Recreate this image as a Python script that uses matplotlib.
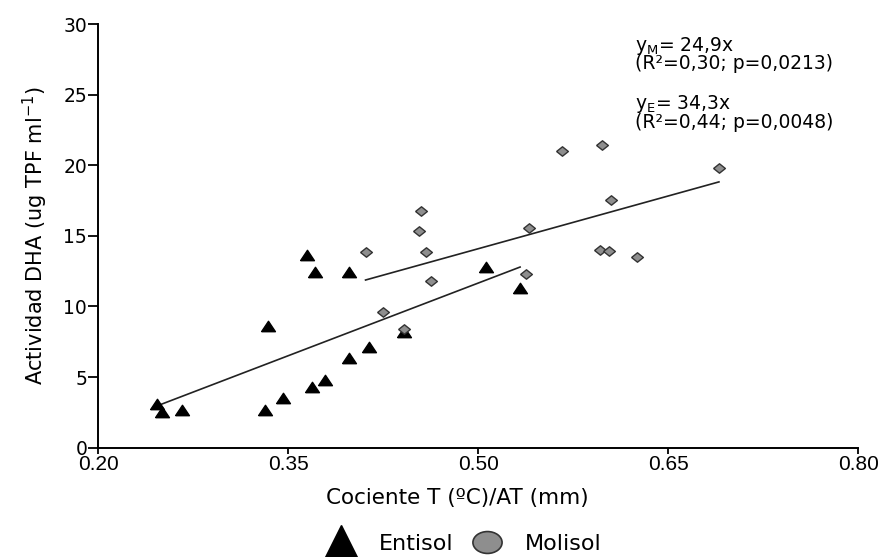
import matplotlib
matplotlib.use("Agg")
import matplotlib.pyplot as plt
from matplotlib.lines import Line2D
from matplotlib.path import Path
import numpy as np

plt.rcParams['font.family'] = ['DejaVu Sans']
plt.rcParams['mathtext.fontset'] = 'dejavusans'

# Entisol (triangles)
entisol_x = [0.246, 0.250, 0.266, 0.332, 0.334, 0.346, 0.365, 0.371, 0.369, 0.379,
             0.398, 0.398, 0.414, 0.441, 0.506, 0.533]
entisol_y = [3.07, 2.51, 2.67, 2.67, 8.62, 3.50, 13.65, 12.42, 4.28, 4.76,
             12.42, 6.33, 7.15, 8.17, 12.82, 11.29]

# Molisol (diamonds)
molisol_x = [0.566, 0.598, 0.690, 0.605, 0.455, 0.453, 0.540, 0.459, 0.596, 0.603,
             0.625, 0.538, 0.463, 0.425, 0.411, 0.441]
molisol_y = [21.03, 21.44, 19.79, 17.54, 16.78, 15.35, 15.54, 13.88, 14.00, 13.95,
             13.48, 12.30, 11.83, 9.63, 13.86, 8.41]

# regression lines (slope from the equations, intercept)
slope_m, intercept_m = 24.9, 1.64
slope_e, intercept_e = 34.3, -5.49

x_ticks = [0.20, 0.35, 0.50, 0.65, 0.80]
x_tick_labels = ['0.20', '0.35', '0.50', '0.65', '0.80']
y_ticks = [0, 5, 10, 15, 20, 25, 30]

eq_blocks = ['y$_\\mathregular{M}$= 24,9x\n(R²=0,30; p=0,0213)',
             'y$_\\mathregular{E}$= 34,3x\n(R²=0,44; p=0,0048)']
eq_y = [27.88, 23.74]

tri = Path([(-1, -0.75), (1, -0.75), (0, 0.75), (-1, -0.75)])
dia = Path([(-1, 0), (0, 0.8), (1, 0), (0, -0.8), (-1, 0)])
circ = Path.unit_circle()
ell = Path(circ.vertices * [1.0, 0.75], circ.codes)

fig = plt.figure(figsize=(8.83, 5.57), dpi=100)
ax = fig.add_axes([0.1113, 0.1962, 0.8607, 0.7607])

ax.scatter(entisol_x, entisol_y, marker=tri, s=10**2, color='black', zorder=3)
ax.scatter(molisol_x, molisol_y, marker=dia, s=8.5**2, facecolor='#8e8e8e',
           edgecolor='#333333', linewidth=1.0, zorder=4)

xe = np.array([min(entisol_x), max(entisol_x)])
xm = np.array([min(molisol_x), max(molisol_x)])
ax.plot(xe, slope_e * xe + intercept_e, color='#222222', linewidth=1.2, zorder=2)
ax.plot(xm, slope_m * xm + intercept_m, color='#222222', linewidth=1.2, zorder=2)

ax.set_xlim(0.20, 0.80)
ax.set_ylim(0, 30)
ax.set_xticks(x_ticks)
ax.set_xticklabels(x_tick_labels, fontfamily='Liberation Sans', fontsize=15)
ax.set_yticks(y_ticks)
ax.spines['top'].set_visible(False)
ax.spines['right'].set_visible(False)
for s in ['left', 'bottom']:
    ax.spines[s].set_linewidth(1.4)
ax.tick_params(axis='y', direction='out', length=7, width=1.3, labelsize=13.5, pad=1)
ax.tick_params(axis='x', direction='out', length=4, width=1.3, pad=1)
ax.set_xlabel('Cociente T (ºC)/AT (mm)', fontsize=15.5)
ax.xaxis.set_label_coords(0.473, -0.095)
ax.set_ylabel('Actividad DHA (ug TPF ml$^\\mathregular{-1}$)', fontsize=15, labelpad=10)

for txt, yy in zip(eq_blocks, eq_y):
    ax.text(0.6237, yy, txt, fontsize=13.5, va='center', linespacing=0.85)

handles = [
    Line2D([], [], marker='^', linestyle='none', markersize=25, color='black', label='Entisol'),
    Line2D([], [], marker=ell, linestyle='none', markersize=21, markerfacecolor='#8e8e8e',
           markeredgecolor='#333333', markeredgewidth=1.2, label='Molisol'),
]
fig.legend(handles=handles, loc='center', bbox_to_anchor=(0.524, 0.024), ncol=2,
           frameon=False, fontsize=16, handletextpad=0.9, columnspacing=0.72,
           handlelength=1.6, borderpad=0)

fig.savefig('out.png', dpi=100)
